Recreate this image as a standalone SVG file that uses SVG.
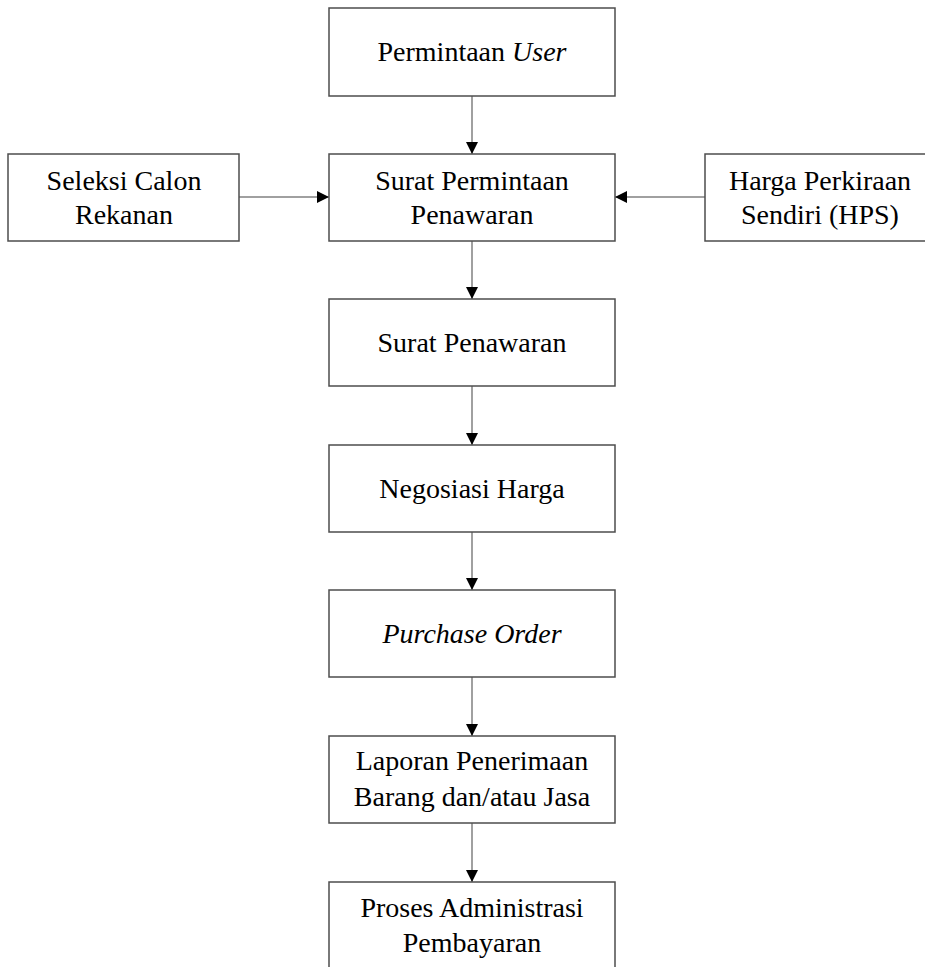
<svg xmlns="http://www.w3.org/2000/svg" width="925" height="967" viewBox="0 0 925 967">
<style>
.box{fill:#fff;stroke:#4d4d4d;stroke-width:1.5}
.t{font-family:"Liberation Serif","Times New Roman",serif;font-size:28px;fill:#000;text-anchor:middle}
.i{font-style:italic}
.c{stroke:#808080;stroke-width:1.5;fill:none}
</style>
<defs>
<marker id="ah" markerWidth="12" markerHeight="12" refX="12" refY="6" orient="auto" markerUnits="userSpaceOnUse">
<path d="M0,0 L12,6 L0,12 Z" fill="#000"/>
</marker>
</defs>
<rect width="925" height="967" fill="#fff"/>
<g id="connectors">
<line class="c" x1="472" y1="96" x2="472" y2="154" marker-end="url(#ah)"/>
<line class="c" x1="239" y1="197" x2="329" y2="197" marker-end="url(#ah)"/>
<line class="c" x1="705" y1="197" x2="615" y2="197" marker-end="url(#ah)"/>
<line class="c" x1="472" y1="241" x2="472" y2="299" marker-end="url(#ah)"/>
<line class="c" x1="472" y1="386" x2="472" y2="445" marker-end="url(#ah)"/>
<line class="c" x1="472" y1="532" x2="472" y2="590" marker-end="url(#ah)"/>
<line class="c" x1="472" y1="677" x2="472" y2="736" marker-end="url(#ah)"/>
<line class="c" x1="472" y1="823" x2="472" y2="882" marker-end="url(#ah)"/>
</g>
<g id="permintaan-user">
<rect class="box" x="329" y="8" width="286" height="88"/>
<text class="t" x="472" y="61">Permintaan <tspan class="i">User</tspan></text>
</g>
<g id="seleksi-calon-rekanan">
<rect class="box" x="8" y="154" width="231" height="87"/>
<text class="t" x="124" y="190">Seleksi Calon</text>
<text class="t" x="124" y="224">Rekanan</text>
</g>
<g id="surat-permintaan-penawaran">
<rect class="box" x="329" y="154" width="286" height="87"/>
<text class="t" x="472" y="190">Surat Permintaan</text>
<text class="t" x="472" y="224">Penawaran</text>
</g>
<g id="hps">
<rect class="box" x="705" y="154" width="230" height="87"/>
<text class="t" x="820" y="190">Harga Perkiraan</text>
<text class="t" x="820" y="224">Sendiri (HPS)</text>
</g>
<g id="surat-penawaran">
<rect class="box" x="329" y="299" width="286" height="87"/>
<text class="t" x="472" y="352">Surat Penawaran</text>
</g>
<g id="negosiasi-harga">
<rect class="box" x="329" y="445" width="286" height="87"/>
<text class="t" x="472" y="498">Negosiasi Harga</text>
</g>
<g id="purchase-order">
<rect class="box" x="329" y="590" width="286" height="87"/>
<text class="t i" x="472" y="643">Purchase Order</text>
</g>
<g id="laporan-penerimaan">
<rect class="box" x="329" y="736" width="286" height="87"/>
<text class="t" x="472" y="770">Laporan Penerimaan</text>
<text class="t" x="472" y="806">Barang dan/atau Jasa</text>
</g>
<g id="proses-administrasi">
<rect class="box" x="329" y="882" width="286" height="87"/>
<text class="t" x="472" y="917">Proses Administrasi</text>
<text class="t" x="472" y="952">Pembayaran</text>
</g>
</svg>
